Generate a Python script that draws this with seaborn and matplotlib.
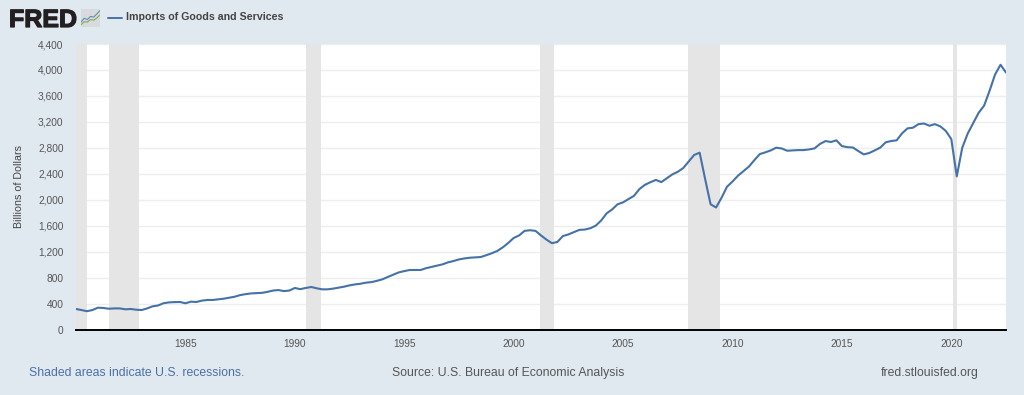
import numpy as np
import pandas as pd
import matplotlib
matplotlib.use("Agg")
import matplotlib.pyplot as plt
import matplotlib.patheffects as pe
import seaborn as sns

# quarterly values, billions of dollars (1980 Q1 onwards)
imports_vals = [
    316, 300, 282, 300,
    336, 332, 320, 325,
    325, 311, 316, 305,
    300, 325, 357, 370,
    405, 418, 422, 424,
    404, 429, 424, 445,
    455, 455, 465, 475,
    490, 505, 530, 545,
    556, 560, 565, 580,
    600, 608, 592, 600,
    640, 622, 640, 655,
    635, 619, 619, 630,
    645, 660, 680, 695,
    705, 722, 730, 750,
    773, 810, 845, 880,
    900, 917, 917, 917,
    945, 965, 985, 1004,
    1035, 1055, 1080, 1095,
    1106, 1112, 1117, 1145,
    1175, 1210, 1265, 1333,
    1410, 1450, 1520, 1530,
    1520, 1450, 1385, 1330,
    1350, 1440, 1465, 1500,
    1535, 1540, 1560, 1600,
    1680, 1790, 1850, 1930,
    1960, 2010, 2060, 2165,
    2230, 2270, 2305, 2272,
    2330, 2390, 2430, 2488,
    2590, 2690, 2725, 2320,
    1930, 1880, 2030, 2200,
    2280, 2370, 2440, 2510,
    2610, 2704, 2730, 2760,
    2802, 2790, 2755, 2760,
    2765, 2765, 2775, 2791,
    2860, 2904, 2890, 2915,
    2827, 2810, 2805, 2750,
    2699, 2720, 2760, 2802,
    2884, 2905, 2915, 3023,
    3100, 3110, 3165, 3175,
    3140, 3165, 3130, 3060,
    2935, 2360, 2800, 3020,
    3180, 3340, 3450, 3680,
    3930, 4080, 3960,
]
recession_start = [1980.0, 1981.5, 1990.5, 2001.2, 2007.95, 2020.07]
recession_end = [1980.5, 1982.88, 1991.2, 2001.85, 2009.45, 2020.25]
y_ticks = [0, 400, 800, 1200, 1600, 2000, 2400, 2800, 3200, 3600, 4000, 4400]
x_ticks = [1985, 1990, 1995, 2000, 2005, 2010, 2015, 2020]

# logo sparklines
logo_x = [0, 1, 2, 3, 4, 5, 6]
logo_blue = [1.6, 2.8, 2.4, 3.4, 3.2, 4.2, 5.3]
logo_green = [0.7, 1.7, 1.6, 2.4, 2.2, 2.9, 3.9]

BG = "#E1E9F0"
BLUE = "#4572A7"
GREY = "#555555"

sns.set_theme(style="white")
plt.rcParams["font.family"] = ["Liberation Sans", "DejaVu Sans"]

W, H = 1024, 395
fig = plt.figure(figsize=(W / 100, H / 100), dpi=100, facecolor=BG)
ax = fig.add_axes([76 / W, 1 - 329.5 / H, 930 / W, 285.5 / H])

df = pd.DataFrame({
    "date": 1980 + np.arange(len(imports_vals)) * 0.25,
    "value": imports_vals,
})

for s, e in zip(recession_start, recession_end):
    ax.axvspan(s, e, color="#E5E5E5", lw=0, zorder=1.5)

sns.lineplot(df, x="date", y="value", color=BLUE, lw=1.5, ax=ax, zorder=3)

ax.set_xlim(1980, 2022.5)
ax.set_ylim(0, 4400)
ax.set_yticks(y_ticks)
ax.set_yticklabels([f"{v:,}" for v in y_ticks])
ax.set_xticks(x_ticks)
ax.set_xlabel("")
ax.set_ylabel("Billions of Dollars", fontsize=7.7, color="#444444")
ax.yaxis.set_label_coords(-52 / 930, 0.5)
ax.grid(axis="y", color="#EEEEEE", lw=1)
ax.set_axisbelow(True)
ax.tick_params(axis="y", length=0, labelsize=7.3, labelcolor=GREY, pad=9)
ax.tick_params(axis="x", length=4.5, width=0.7, color="#C5D3E0", labelsize=7.3,
               labelcolor=GREY, pad=2.2)
for side in ["top", "right", "left"]:
    ax.spines[side].set_visible(False)
ax.spines["bottom"].set_color("black")
ax.spines["bottom"].set_linewidth(1.4)
ax.spines["bottom"].set_zorder(4)

# header
fig.text(9 / W, 1 - 27 / H, "FRED", fontsize=18, fontweight="bold",
         color="#231F20", ha="left", va="baseline",
         path_effects=[pe.withStroke(linewidth=0.9, foreground="#231F20")])
logo = fig.add_axes([81 / W, 1 - 27 / H, 19 / W, 18 / H], facecolor="#D8DBDD")
sns.lineplot(x=logo_x, y=logo_blue, color="#5F8CBC", lw=0.8, ax=logo)
sns.lineplot(x=logo_x, y=logo_green, color="#86A94F", lw=0.8, ax=logo)
logo.set_xlim(0, 6)
logo.set_ylim(0, 5.8)
logo.set_xticks([])
logo.set_yticks([])
logo.set_xlabel("")
logo.set_ylabel("")
sns.despine(ax=logo, left=True, bottom=True)

fig.add_artist(plt.Line2D([108 / W, 122 / W], [1 - 17.5 / H] * 2, color=BLUE, lw=1.4))
fig.text(126 / W, 1 - 17 / H, "Imports of Goods and Services", fontsize=7.65,
         fontweight="bold", color="#444444", ha="left", va="center")

# footer
fig.text(29 / W, 1 - 373 / H, "Shaded areas indicate U.S. recessions.", fontsize=8.8,
         color="#4A6FA5", ha="left", va="center")
fig.text(508.5 / W, 1 - 373 / H, "Source: U.S. Bureau of Economic Analysis", fontsize=8.8,
         color=GREY, ha="center", va="center")
fig.text(979 / W, 1 - 373 / H, "fred.stlouisfed.org", fontsize=8.8,
         color=GREY, ha="right", va="center")

fig.savefig("out.png", dpi=100, facecolor=BG)
